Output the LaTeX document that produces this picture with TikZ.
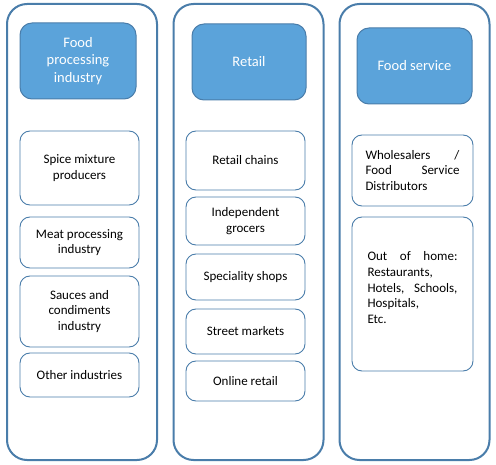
\documentclass[tikz,border=0pt]{standalone}
\usepackage{fontspec}
\setmainfont{Carlito}
\definecolor{frameblue}{HTML}{4A7DAA}
\definecolor{headblue}{HTML}{5BA3DA}
\newcommand{\headfont}{\fontsize{14.5}{17.5}\selectfont}
\newcommand{\itemfont}{\fontsize{13}{15.7}\selectfont}

\begin{document}
\begin{tikzpicture}[x=1pt,y=-1pt,
  column/.style={draw=frameblue, line width=2pt, rounded corners=20pt, minimum width=150pt, minimum height=456pt},
  head/.style={draw=frameblue, fill=headblue, line width=1pt, rounded corners=12pt, text=white, font=\headfont, align=center, minimum height=76pt},
  item/.style={draw=frameblue, line width=0.9pt, rounded corners=10pt, font=\itemfont, align=center}]
\tikzstyle{every node}+=[inner sep=0pt]
\useasboundingbox (0,0) rectangle (496,465);
% the three columns
\node [column] (foodcol) at (82,232) {};
\node [column] (retailcol) at (248.5,232) {};
\node [column] (servicecol) at (414.5,232) {};
% headers
\node [head, minimum width=116pt] (foodhead) at (78,61) {Food\\processing\\industry};
\node [head, minimum width=114pt] (retailhead) at (249,62) {Retail};
\node [head, minimum width=115pt] (servicehead) at (414.5,66) {Food service};
% food processing industry
\node [item, minimum width=119pt, minimum height=74pt] (spice) at (79.5,168) {Spice mixture\\producers};
\node [item, minimum width=119pt, minimum height=51pt] (meat) at (79.5,242.5) {Meat processing\\industry};
\node [item, minimum width=119pt, minimum height=71pt] (sauces) at (79.5,311.5) {Sauces and\\condiments\\industry};
\node [item, minimum width=119pt, minimum height=44pt] (other) at (79.5,375) {Other industries};
% retail
\node [item, minimum width=119pt, minimum height=59pt] (chains) at (245.5,160.5) {Retail chains};
\node [item, minimum width=119pt, minimum height=48pt] (grocers) at (245.5,221) {Independent\\grocers};
\node [item, minimum width=119pt, minimum height=46pt] (shops) at (245.5,277) {Speciality shops};
\node [item, minimum width=119pt, minimum height=45pt] (markets) at (245.5,331.5) {Street markets};
\node [item, minimum width=119pt, minimum height=40pt] (online) at (245.5,381) {Online retail};
% food service
\node [item, minimum width=121pt, minimum height=71pt, text width=94pt, align=left] (wholesale) at (412.5,170.5)
  {Wholesalers\hfill/\\Food\hfill Service\\Distributors};
\node [item, minimum width=121pt, minimum height=154pt, text width=90pt, align=left] (outhome) at (412.5,294)
  {Out\hfill of\hfill home:\\Restaurants,\\Hotels,\hfill Schools,\\Hospitals,\\Etc.\rule[-13pt]{0pt}{13pt}};
\end{tikzpicture}
\end{document}
